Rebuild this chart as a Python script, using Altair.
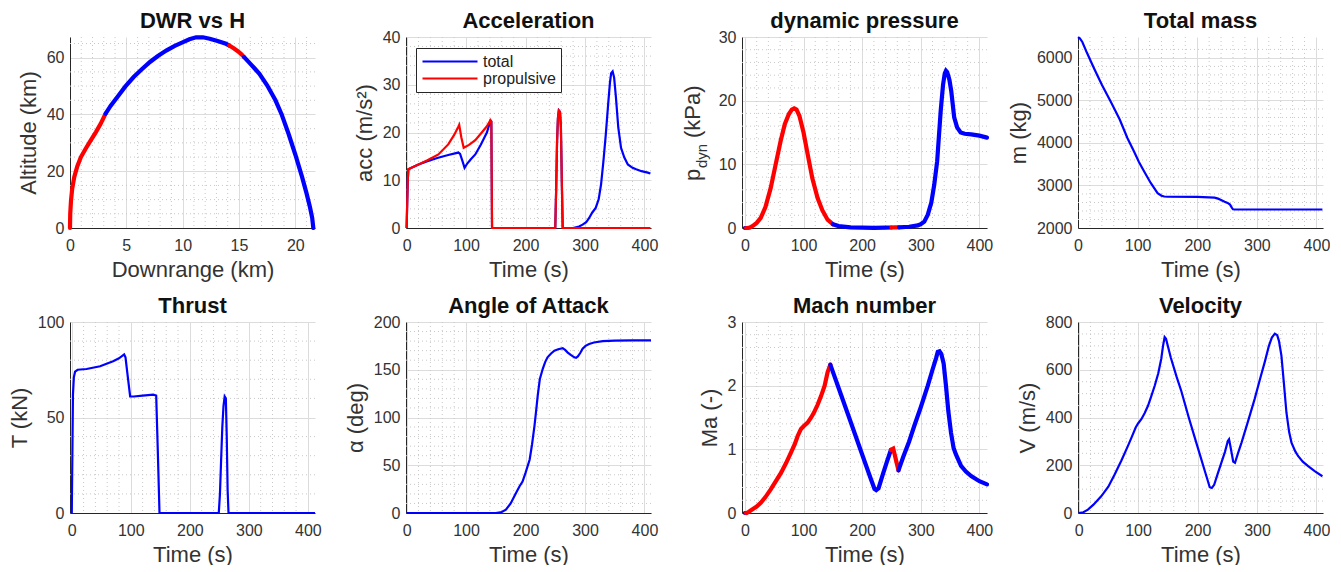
import altair as alt
import pandas as pd

FONT = "Liberation Sans"
BLUE = "#0000ff"
RED = "#ff0000"
MAJOR = "#dcdcdc"
MINOR = "#c8c8c8"
INK = "#333333"
W, H = 245, 191

# ---------------- data ----------------
# DWR vs H (downrange km, altitude km)
dwr_x = [0, 0.02, 0.09, 0.2, 0.38, 0.65, 0.97, 1.4, 1.84, 2.3, 2.72, 3.16, 3.6, 4.19, 4.9,
         5.65, 6.4, 7.1, 7.8, 8.58, 9.3, 10.04, 10.6, 11.2, 11.8, 12.4, 13.1, 13.85, 14.14,
         14.5, 14.9, 15.2, 15.46, 16.1, 16.8, 17.5, 18.24, 18.8, 19.4, 20.0, 20.6, 21.0,
         21.3, 21.5, 21.6]
dwr_h = [0, 5, 9.7, 14, 18, 21.8, 25, 28, 30.9, 33.8, 36.7, 40.3, 43, 46.1, 49.8,
         53.2, 56, 58.5, 60.6, 62.6, 64.2, 65.5, 66.5, 67.2, 67.2, 66.7, 65.9, 64.9, 64.3,
         63.4, 62.3, 61.3, 60.2, 57.5, 54.4, 50.3, 45, 39.9, 33.2, 25.9, 18, 12.2,
         7.4, 3.6, 0]
dwr_burns = [(0, 3.16), (14.14, 15.46)]

# Acceleration (m/s^2)
acc_tot_t = [0, 1, 2, 3, 10, 20, 35, 53, 70, 87, 90, 94, 97.5, 102, 108, 115.5, 125, 135,
             141, 142.5, 143.7, 150, 200, 250, 251.5, 253, 254.5, 256, 258, 259.5, 261,
             262.5, 280, 290, 296, 302, 307, 312, 318, 323, 327, 331, 335, 339, 342, 344,
             346.5, 349, 352, 356, 360.6, 366, 372, 380, 386, 395, 405.6, 410]
acc_tot = [0, 5, 10, 12.3, 12.7, 13.3, 14, 14.7, 15.3, 15.8, 15.5, 14, 12.6, 13.5, 14.4,
           15.4, 17.5, 20, 22.5, 22.3, 0, 0, 0, 0, 8, 18, 23, 24.6, 24.3, 21, 10,
           0, 0, 0.3, 0.7, 1.2, 2.1, 3.2, 4.2, 6, 9.1, 14, 19.6, 26, 30.5, 32.4,
           32.8, 31.5, 27.4, 21, 16.8, 14.8, 13.3, 12.6, 12.3, 11.9, 11.6, 11.4]
acc_prop_t = [0, 1, 2, 3, 10, 20, 35, 53.5, 70, 80, 87, 88.5, 92, 96, 105, 115.5, 125, 135,
              141, 142.5, 143.7, 150, 250, 251.5, 253, 254.5, 256, 258, 259.5, 261, 262.5,
              300, 410]
acc_prop = [0, 5, 10, 12.3, 12.7, 13.3, 14.2, 15.4, 17.5, 19.5, 21.2, 21.6, 19, 16.8,
            17.4, 18.4, 19.8, 21.3, 22.6, 22.3, 0, 0, 0, 8, 18, 23, 24.6, 24.3, 21, 10,
            0, 0, 0]
acc_series = ["total", "propulsive"]

# Dynamic pressure (kPa)
q_t = [0, 2, 5, 8, 13, 20, 27, 35, 44, 52, 61, 68, 75, 80, 84, 88, 93, 100, 107, 115, 124,
       132, 141, 150, 160, 180, 200, 220, 240, 250, 255, 260, 263, 280, 295, 300, 306, 312,
       318, 323, 328, 334, 338, 341, 343, 345, 347, 349, 352, 357, 362, 368, 375, 386, 400,
       413]
q_v = [0, 0, 0.02, 0.05, 0.3, 0.8, 1.6, 3.3, 6.3, 9.8, 13.7, 16.3, 17.9, 18.6, 18.8, 18.6,
       17.6, 15, 11.6, 7.8, 4.7, 2.8, 1.3, 0.6, 0.3, 0.1, 0.05, 0.03, 0.05, 0.08, 0.1, 0.1,
       0.1, 0.2, 0.4, 0.6, 1.0, 2.1, 4.0, 6.8, 10.5, 18.4, 22.5, 24.3, 24.7, 24.5, 23.9,
       23.2, 21.5, 17.4, 15.8, 15, 14.8, 14.7, 14.5, 14.2]
q_burns = [(2, 150), (250, 263)]

# Total mass (kg)
m_t = [0, 3, 7.3, 15, 27, 40, 55, 70, 83, 94, 102, 111, 122, 133.5, 140, 144.7, 150, 200,
       229, 235, 240, 246, 251, 255, 258, 260, 263, 300, 410]
m_v = [6490, 6460, 6375, 6120, 5750, 5370, 4970, 4550, 4110, 3800, 3560, 3330, 3060, 2820,
       2760, 2740, 2735, 2730, 2715, 2690, 2660, 2620, 2590, 2550, 2480, 2440, 2435, 2435,
       2435]

# Thrust (kN)
thr_t = [0, 1, 2, 3.5, 5.6, 10, 25, 48, 70, 80, 88.7, 91, 95, 98.9, 105, 120, 138, 143,
         145.5, 148.6, 200, 249, 251, 253, 255, 257, 259, 261, 262.5, 264, 265.5, 300, 412]
thr_v = [0, 30, 62, 71, 74, 75, 75.4, 76.8, 79.4, 81, 83, 81.5, 71, 61, 61, 61.5, 62, 61.5,
         35, 0, 0, 0, 10, 28, 45, 56, 61, 60, 40, 12, 0, 0, 0]

# Angle of attack (deg)
aoa_t = [0, 50, 100, 150, 160, 167, 175, 184, 190, 195, 200, 207, 211, 215, 218, 220.5, 224,
         229, 233, 237, 243, 248.5, 255, 262.5, 267, 271, 276, 282, 285, 288, 292, 296, 301,
         307, 315, 330, 350, 380, 411]
aoa_v = [0, 0, 0, 0, 1, 3.5, 10, 21, 28, 33, 42, 56, 72, 91, 108, 123, 140, 151, 158, 163,
         167, 170, 171.5, 172.6, 170.5, 168, 165.5, 163, 162.5, 164, 167.5, 172, 175, 177,
         178.5, 180, 180.5, 180.7, 180.7]

# Mach number (-)
ma_t = [0, 2, 5, 13, 20, 27, 35, 44, 52, 61.5, 70, 78.5, 85, 90, 95.6, 101, 107, 113, 118,
        124, 130, 136, 141, 145.7, 160, 180, 200, 215, 221, 224, 228, 235, 242, 249, 253,
        256, 259, 262, 270, 280, 289, 300, 312, 320, 326, 329, 332, 335, 339, 343, 347,
        351.6, 356, 360, 368.7, 377, 386, 400, 413]
ma_v = [0, 0, 0.01, 0.06, 0.1, 0.16, 0.25, 0.37, 0.49, 0.63, 0.78, 0.95, 1.08, 1.21, 1.32,
        1.37, 1.42, 1.5, 1.58, 1.7, 1.84, 2.0, 2.21, 2.33, 1.96, 1.44, 0.92, 0.53, 0.38,
        0.36, 0.39, 0.6, 0.8, 0.99, 1.01, 0.9, 0.78, 0.67, 0.88, 1.12, 1.37, 1.66, 2.0,
        2.25, 2.43, 2.53, 2.54, 2.5, 2.35, 2.0, 1.6, 1.26, 1.02, 0.92, 0.74, 0.65, 0.58,
        0.5, 0.45]
ma_burns = [(2, 145.7), (249, 262)]

# Velocity (m/s)
vel_t = [0, 8, 15.7, 25, 38, 50, 60.6, 72, 83, 90, 96, 100, 105.5, 111, 116.7, 122, 128,
         134, 139, 142, 144.7, 147, 155, 165, 172.8, 185, 195, 205, 212, 217, 220.5, 224,
         228, 234, 240, 246, 251, 253, 256, 260, 263, 268, 274, 285, 296, 305, 313, 320,
         325, 330, 334, 337, 341, 345, 349.5, 354, 358, 364, 369, 377, 386, 397, 410]
vel_v = [0, 3, 14, 35, 70, 110, 161, 220, 281, 322, 358, 375, 393, 418, 449, 487, 533, 585,
         646, 700, 737, 730, 651, 569, 510, 402, 319, 236, 178, 137, 108, 105, 118, 165, 210,
         255, 302, 309, 270, 215, 210, 250, 295, 385, 477, 560, 632, 700, 735, 751, 745, 720,
         660, 550, 421, 340, 295, 260, 239, 215, 196, 175, 154]

# tick labels
time_ticks = [0, 100, 200, 300, 400]
time_minor = [v for v in range(20, 420, 20) if v % 100 != 0]

one = pd.DataFrame({"a": [0]})


def segments(xs, ys, burns):
    rows, seg, prev = [], 0, None
    for i in range(len(xs) - 1):
        mid = (xs[i] + xs[i + 1]) / 2
        ph = "burn" if any(a <= mid <= b for a, b in burns) else "coast"
        if ph != prev:
            seg += 1
            rows.append(dict(x=xs[i], y=ys[i], ph=ph, seg=seg, o=i))
            prev = ph
        rows.append(dict(x=xs[i + 1], y=ys[i + 1], ph=ph, seg=seg, o=i + 1))
    return pd.DataFrame(rows)


def panel(title, xdom, ydom, xticks, yticks, xminor, yminor, xtitle, ytitle, layers_fn):
    xs = alt.Scale(domain=xdom, nice=False, zero=False)
    ys = alt.Scale(domain=ydom, nice=False, zero=False)
    xax = alt.Axis(values=xticks, title=xtitle, format="d")
    yax = alt.Axis(values=yticks, title=ytitle, format="d")
    vr = alt.Chart(pd.DataFrame({"v": xminor})).mark_rule(
        color=MINOR, strokeDash=[1, 3], strokeWidth=1).encode(
        x=alt.X("v:Q", scale=xs, axis=xax))
    hr = alt.Chart(pd.DataFrame({"v": yminor})).mark_rule(
        color=MINOR, strokeDash=[1, 3], strokeWidth=1).encode(
        y=alt.Y("v:Q", scale=ys, axis=yax))
    ttl = alt.Chart(one).mark_text(
        text=title, font=FONT, fontSize=22, fontWeight="bold", color="#111111",
        align="center", baseline="alphabetic").encode(
        x=alt.value(W / 2), y=alt.value(-9))
    layers = [vr, hr] + layers_fn(xs, ys, xax, yax) + [ttl]
    return alt.layer(*layers).properties(width=W, height=H)


def simple_line(t, v, width=2.2):
    def fn(xs, ys, xax, yax):
        df = pd.DataFrame({"x": t, "y": v, "o": list(range(len(t)))})
        return [alt.Chart(df).mark_line(color=BLUE, strokeWidth=width).encode(
            x=alt.X("x:Q", scale=xs, axis=xax),
            y=alt.Y("y:Q", scale=ys, axis=yax),
            order="o:Q")]
    return fn


def phase_line(xv, yv, burns, extra=None):
    def fn(xs, ys, xax, yax):
        df = segments(xv, yv, burns)
        ch = [alt.Chart(df).mark_line(strokeWidth=4.2, strokeCap="round").encode(
            x=alt.X("x:Q", scale=xs, axis=xax),
            y=alt.Y("y:Q", scale=ys, axis=yax),
            color=alt.Color("ph:N", scale=alt.Scale(domain=["coast", "burn"],
                                                    range=[BLUE, RED]), legend=None),
            detail="seg:N",
            order="o:Q")]
        if extra:
            ch += extra
        return ch
    return fn


def acc_layers(xs, ys, xax, yax):
    cscale = alt.Scale(domain=acc_series, range=[BLUE, RED])
    leg = alt.Legend(title=None, orient="none", legendX=10, legendY=11,
                     symbolType="stroke", symbolSize=3025, symbolStrokeWidth=2.2,
                     clipHeight=17, rowPadding=0, labelFontSize=16, labelFont=FONT,
                     labelColor="#222222", strokeColor="#262626", fillColor="white",
                     padding=5, labelOffset=4)
    d1 = pd.DataFrame({"x": acc_tot_t, "y": acc_tot, "s": acc_series[0]})
    d2 = pd.DataFrame({"x": acc_prop_t, "y": acc_prop, "s": acc_series[1]})
    l1 = alt.Chart(d1).mark_line(strokeWidth=2.2).encode(
        x=alt.X("x:Q", scale=xs, axis=xax), y=alt.Y("y:Q", scale=ys, axis=yax),
        color=alt.Color("s:N", scale=cscale, legend=leg))
    l2 = alt.Chart(d2).mark_line(strokeWidth=2.2).encode(
        x=alt.X("x:Q", scale=xs, axis=xax), y=alt.Y("y:Q", scale=ys, axis=yax),
        color=alt.Color("s:N", scale=cscale, legend=leg))
    return [l1, l2]


pdyn_title = [
    alt.Chart(one).mark_text(text="p", angle=270, align="left", baseline="alphabetic",
                             font=FONT, fontSize=22, color=INK).encode(
        x=alt.value(-42), y=alt.value(144)),
    alt.Chart(one).mark_text(text="dyn", angle=270, align="left", baseline="alphabetic",
                             font=FONT, fontSize=15, color=INK).encode(
        x=alt.value(-35), y=alt.value(131)),
    alt.Chart(one).mark_text(text="(kPa)", angle=270, align="left", baseline="alphabetic",
                             font=FONT, fontSize=22, color=INK).encode(
        x=alt.value(-42), y=alt.value(101)),
]

panels = [
    panel("DWR vs H", [0, 21.75], [0, 67.3], [0, 5, 10, 15, 20], [0, 20, 40, 60],
          [v for v in range(1, 22) if v % 5 != 0], [v for v in range(5, 67, 5) if v % 20 != 0],
          "Downrange (km)", "Altitude (km)", phase_line(dwr_x, dwr_h, dwr_burns)),
    panel("Acceleration", [-1, 411], [0, 40], time_ticks, [0, 10, 20, 30, 40],
          time_minor, [v for v in range(2, 40, 2) if v % 10 != 0],
          "Time (s)", "acc (m/s²)", acc_layers),
    panel("dynamic pressure", [-5, 413], [0, 30], time_ticks, [0, 10, 20, 30],
          time_minor, [v for v in range(2, 30, 2) if v % 10 != 0],
          "Time (s)", "", phase_line(q_t, q_v, q_burns, pdyn_title)),
    panel("Total mass", [0, 411], [2000, 6492], time_ticks, [2000, 3000, 4000, 5000, 6000],
          time_minor, [v for v in range(2200, 6400, 200) if v % 1000 != 0],
          "Time (s)", "m (kg)", simple_line(m_t, m_v)),
    panel("Thrust", [-3, 412], [0, 100], time_ticks, [0, 50, 100],
          time_minor, [v for v in range(10, 100, 10) if v % 50 != 0],
          "Time (s)", "T (kN)", simple_line(thr_t, thr_v)),
    panel("Angle of Attack", [-1, 411], [0, 200], time_ticks, [0, 50, 100, 150, 200],
          time_minor, [v for v in range(10, 200, 10) if v % 50 != 0],
          "Time (s)", "α (deg)", simple_line(aoa_t, aoa_v)),
    panel("Mach number", [-5, 413], [0, 3], time_ticks, [0, 1, 2, 3],
          time_minor, [0.2, 0.4, 0.6, 0.8, 1.2, 1.4, 1.6, 1.8, 2.2, 2.4, 2.6, 2.8],
          "Time (s)", "Ma (-)", phase_line(ma_t, ma_v, ma_burns)),
    panel("Velocity", [-1, 411], [0, 800], time_ticks, [0, 200, 400, 600, 800],
          time_minor, [v for v in range(50, 800, 50) if v % 200 != 0],
          "Time (s)", "V (m/s)", simple_line(vel_t, vel_v)),
]

chart = alt.concat(*panels, columns=4, spacing={"row": 94, "column": 91},
                   bounds="flush").resolve_scale(color="independent").properties(
    padding={"left": 0, "top": 2, "right": 0, "bottom": 0}
).configure_view(stroke=None).configure_axis(
    labelFont=FONT, titleFont=FONT, labelFontSize=16, titleFontSize=22,
    labelColor=INK, titleColor=INK, titleFontWeight="normal",
    domainColor="#262626", domainWidth=1, gridColor=MAJOR, gridWidth=1,
    ticks=False, tickSize=0, labelFlush=False, labelPadding=6, titlePadding=6,
    labelOverlap=False
).configure_axisX(labelPadding=9, titlePadding=6)

chart.save("out.html", embed_options={"renderer": "svg", "actions": False})
